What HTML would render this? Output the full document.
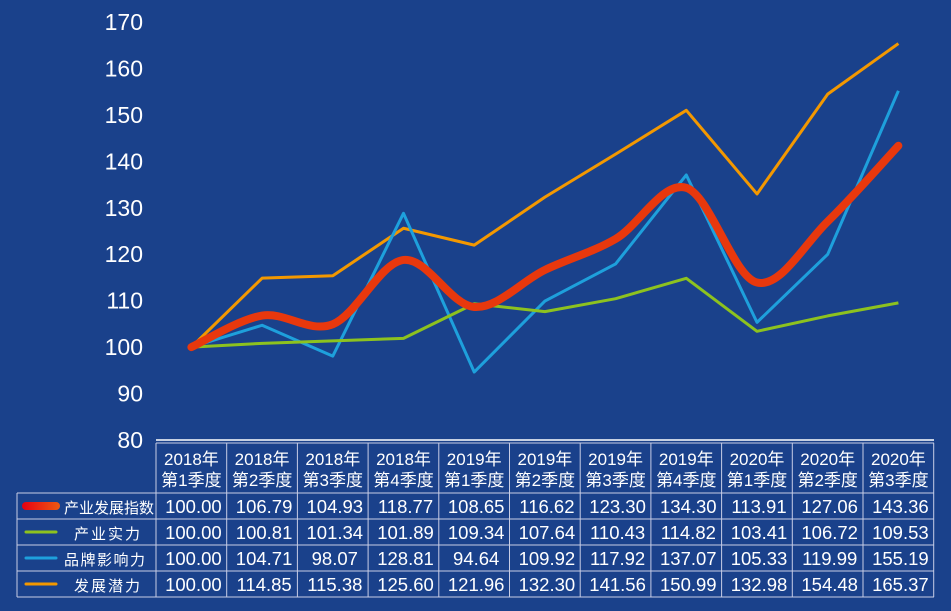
<!DOCTYPE html>
<html><head><meta charset="utf-8"><style>
html,body{margin:0;padding:0;background:#1a418b;}
svg{display:block}
text{font-family:"Liberation Sans","Noto Sans CJK SC",sans-serif;fill:#fff}
</style></head><body>
<svg id="s" width="951" height="611" xmlns="http://www.w3.org/2000/svg">
<defs><linearGradient id="rg" gradientUnits="userSpaceOnUse" x1="22" y1="0" x2="60" y2="0"><stop offset="0" stop-color="#e60012"/><stop offset="1" stop-color="#ee5a12"/></linearGradient></defs>
<rect width="951" height="611" fill="#1a418b"/>
<g id="g"></g>
</svg>
<script>
var g=document.getElementById('g'),NS='http://www.w3.org/2000/svg';
function el(t,a,txt){var e=document.createElementNS(NS,t);for(var k in a)e.setAttribute(k,a[k]);if(txt!=null)e.textContent=txt;g.appendChild(e);return e;}
function Y(v){return 440-(v-80)*4.644;}
function X(i){return 191.4+70.7*i;}
for(var v=80;v<=170;v+=10)el('text',{x:143,y:Y(v)+8,'text-anchor':'end','font-size':23},v);
var cols=['第1季度','第2季度','第3季度','第4季度','第1季度','第2季度','第3季度','第4季度','第1季度','第2季度','第3季度'];
var yrs=['2018','2018','2018','2018','2019','2019','2019','2019','2020','2020','2020'];
var data=[
['产业发展指数',[100,106.79,104.93,118.77,108.65,116.62,123.30,134.30,113.91,127.06,143.36],'url(#rg)',9],
['产业实力',[100,100.81,101.34,101.89,109.34,107.64,110.43,114.82,103.41,106.72,109.53],'#8dc21f',3],
['品牌影响力',[100,104.71,98.07,128.81,94.64,109.92,117.92,137.07,105.33,119.99,155.19],'#1ea0dc',3],
['发展潜力',[100,114.85,115.38,125.60,121.96,132.30,141.56,150.99,132.98,154.48,165.37],'#f39800',3]];
[3,2,1].forEach(function(k){var d=data[k][1],p='M'+X(0)+','+Y(d[0]);for(var i=1;i<11;i++)p+='L'+X(i)+','+Y(d[i]);
el('path',{d:p,fill:'none',stroke:data[k][2],'stroke-width':3,'stroke-linejoin':'round'});});
(function(){var d=data[0][1],P=d.map(function(v,i){return[X(i),Y(v)]});var p='M'+P[0];
for(var i=0;i<10;i++){var p0=P[Math.max(i-1,0)],p1=P[i],p2=P[i+1],p3=P[Math.min(i+2,10)];
p+='C'+(p1[0]+(p2[0]-p0[0])/6)+','+(p1[1]+(p2[1]-p0[1])/6)+' '+(p2[0]-(p3[0]-p1[0])/6)+','+(p2[1]-(p3[1]-p1[1])/6)+' '+p2[0]+','+p2[1];}
el('path',{d:p,fill:'none',stroke:'#e8380d','stroke-width':8,'stroke-linecap':'round'});})();
var L='#c8cde6';
el('line',{x1:156,y1:440,x2:934,y2:440,stroke:'#fff','stroke-width':1.5});
var rows=[493,519,545,571,597];
el('line',{x1:156,y1:443,x2:934,y2:443,stroke:L});
rows.forEach(function(y){el('line',{x1:17,y1:y,x2:934,y2:y,stroke:L});});
el('line',{x1:17,y1:493,x2:17,y2:597,stroke:L});
for(var i=0;i<=11;i++){var x=156+70.7*i;el('line',{x1:x,y1:443,x2:x,y2:597,stroke:L});}
for(var i=0;i<11;i++){el('text',{x:X(i),y:465,'text-anchor':'middle','font-size':17},yrs[i]+'年');
el('text',{x:X(i),y:486,'text-anchor':'middle','font-size':17},cols[i]);}
data.forEach(function(r,k){var y=rows[k]+20;
el('line',{x1:26,y1:y-7,x2:56,y2:y-7,stroke:r[2],'stroke-width':k==0?8:3,'stroke-linecap':'round'});
var a={x:k==0||k==2?64:74,y:y,'font-size':15};
if(k==1||k==3)a['letter-spacing']='2';
if(k==2)a['letter-spacing']='1.5';
el('text',a,r[0]);
r[1].forEach(function(v,i){el('text',{x:X(i)+2,y:y,'text-anchor':'middle','font-size':18.5},v.toFixed(2));});});
</script>
</body></html>
